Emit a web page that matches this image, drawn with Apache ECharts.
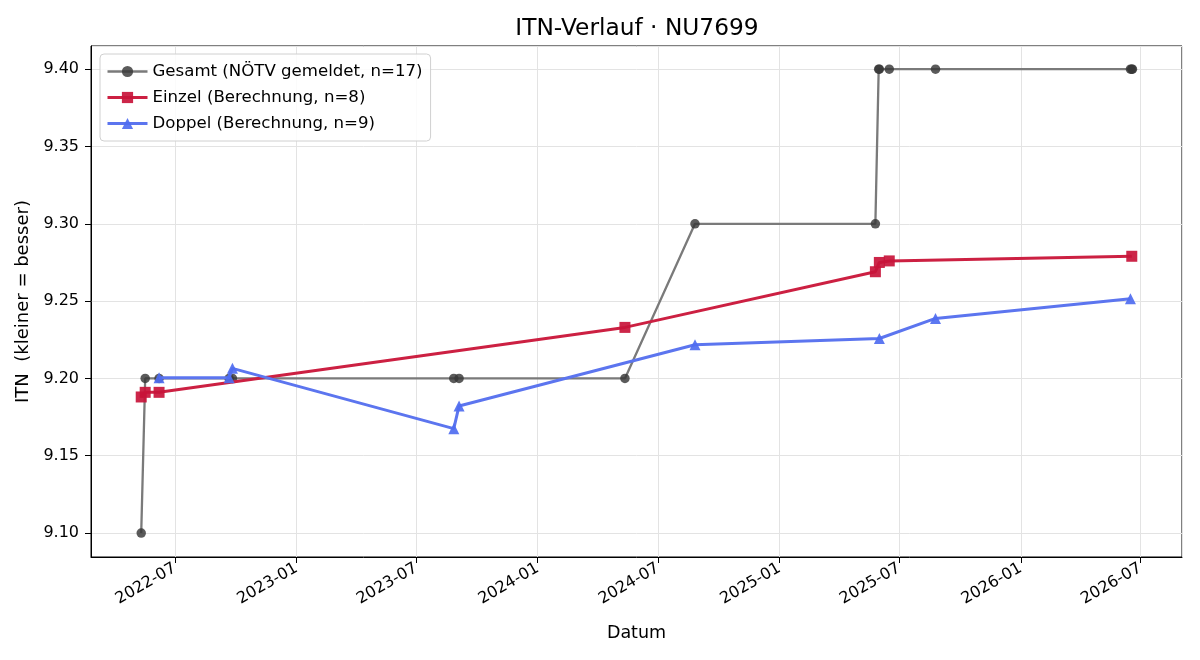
<!DOCTYPE html>
<html>
<head>
<meta charset="utf-8">
<script src="https://cdn.jsdelivr.net/npm/echarts@6/dist/echarts.min.js"></script>
<style>
  html, body { margin: 0; padding: 0; background: #fff; }
  #main { width: 1200px; height: 660px; }
</style>
</head>
<body>
<div id="main"></div>
<script>
// Gesamt (NÖTV gemeldet)
const gesamtDates = ['2022-05-11', '2022-05-17', '2022-06-07', '2022-09-21', '2022-09-26',
  '2023-08-27', '2023-09-04', '2024-05-12', '2024-08-26', '2025-05-26', '2025-05-31',
  '2025-06-01', '2025-06-16', '2025-08-25', '2026-06-16', '2026-06-18', '2026-06-19'];
const gesamtValues = [9.10, 9.20, 9.20, 9.20, 9.20, 9.20, 9.20, 9.20, 9.30, 9.30, 9.40,
  9.40, 9.40, 9.40, 9.40, 9.40, 9.40];

// Einzel (Berechnung)
const einzelDates = ['2022-05-11', '2022-05-17', '2022-06-07', '2024-05-12', '2025-05-26',
  '2025-06-01', '2025-06-16', '2026-06-18'];
const einzelValues = [9.188, 9.191, 9.191, 9.233, 9.269, 9.275, 9.276, 9.279];

// Doppel (Berechnung)
const doppelDates = ['2022-06-07', '2022-09-21', '2022-09-26', '2023-08-27', '2023-09-04',
  '2024-08-26', '2025-06-01', '2025-08-25', '2026-06-16'];
const doppelValues = [9.2005, 9.2005, 9.2065, 9.1675, 9.1822, 9.2218, 9.2258, 9.2388, 9.2515];

const seriesNames = ['Gesamt (NÖTV gemeldet, n=17)', 'Einzel (Berechnung, n=8)', 'Doppel (Berechnung, n=9)'];

const font = 'DejaVu Sans';

function pairs(dates, values) {
  return dates.map((d, i) => [d, values[i]]);
}

const chart = echarts.init(document.getElementById('main'));

const option = {
  animation: false,
  textStyle: { fontFamily: font },
  title: {
    text: 'ITN-Verlauf · NU7699',
    left: 632,
    textAlign: 'center',
    top: 12,
    textStyle: { fontFamily: font, fontSize: 23.3, fontWeight: 'normal', color: '#000' }
  },
  legend: {
    orient: 'vertical',
    left: 100,
    top: 54,
    padding: [9, 8, 9, 6],
    itemGap: 9,
    itemWidth: 40,
    itemHeight: 14,
    backgroundColor: 'rgba(255,255,255,0.85)',
    borderColor: '#d0d0d0',
    borderWidth: 1,
    borderRadius: 4,
    textStyle: { fontFamily: font, fontSize: 16.6, color: '#000' },
    data: [
      { name: seriesNames[0], lineStyle: { width: 2.3 } },
      { name: seriesNames[1], lineStyle: { width: 3 } },
      { name: seriesNames[2], lineStyle: { width: 3 } }
    ]
  },
  grid: {
    left: 91, right: 18, top: 46, bottom: 103,
    show: true, borderColor: '#000', borderWidth: 1
  },
  xAxis: {
    type: 'time',
    min: '2022-02-24',
    max: '2026-09-02',
    splitNumber: 9,
    name: 'Datum',
    nameLocation: 'middle',
    nameGap: 67,
    nameTextStyle: { fontFamily: font, fontSize: 17.5, color: '#000' },
    axisLine: { lineStyle: { color: '#000' } },
    axisTick: { show: true, length: 6, lineStyle: { color: '#000' } },
    axisLabel: {
      rotate: 30,
      fontFamily: font,
      fontSize: 16,
      color: '#000',
      margin: 10,
      showMinLabel: false,
      showMaxLabel: false,
      formatter: function (v) { return echarts.time.format(v, '{yyyy}-{MM}', false); }
    },
    splitLine: { show: true, lineStyle: { color: '#e3e3e3' } }
  },
  yAxis: {
    type: 'value',
    min: 9.0845,
    max: 9.415,
    splitNumber: 6,
    name: 'ITN  (kleiner = besser)',
    nameLocation: 'middle',
    nameGap: 53,
    nameTextStyle: { fontFamily: font, fontSize: 18, color: '#000' },
    axisLine: { show: true, lineStyle: { color: '#000' } },
    axisTick: { show: true, length: 6, lineStyle: { color: '#000' } },
    axisLabel: {
      fontFamily: font,
      fontSize: 16,
      color: '#000',
      margin: 12,
      showMinLabel: false,
      showMaxLabel: false,
      formatter: function (v) { return v.toFixed(2); }
    },
    splitLine: { show: true, lineStyle: { color: '#e3e3e3' } }
  },
  series: [
    {
      name: seriesNames[0],
      type: 'line',
      data: pairs(gesamtDates, gesamtValues),
      symbol: 'circle',
      symbolSize: 9.5,
      lineStyle: { color: '#7a7a7a', width: 2.3 },
      itemStyle: { color: 'rgba(55,55,55,0.82)' },
      z: 2
    },
    {
      name: seriesNames[1],
      type: 'line',
      data: pairs(einzelDates, einzelValues),
      symbol: 'rect',
      symbolSize: 11,
      lineStyle: { color: '#cc2042', width: 3 },
      itemStyle: { color: '#c8143a', opacity: 0.92 },
      z: 3
    },
    {
      name: seriesNames[2],
      type: 'line',
      data: pairs(doppelDates, doppelValues),
      symbol: 'triangle',
      symbolSize: 11,
      lineStyle: { color: '#5c75ef', width: 3 },
      itemStyle: { color: '#4f6cf0', opacity: 0.92 },
      z: 4
    }
  ]
};

option && chart.setOption(option);
</script>
</body>
</html>
